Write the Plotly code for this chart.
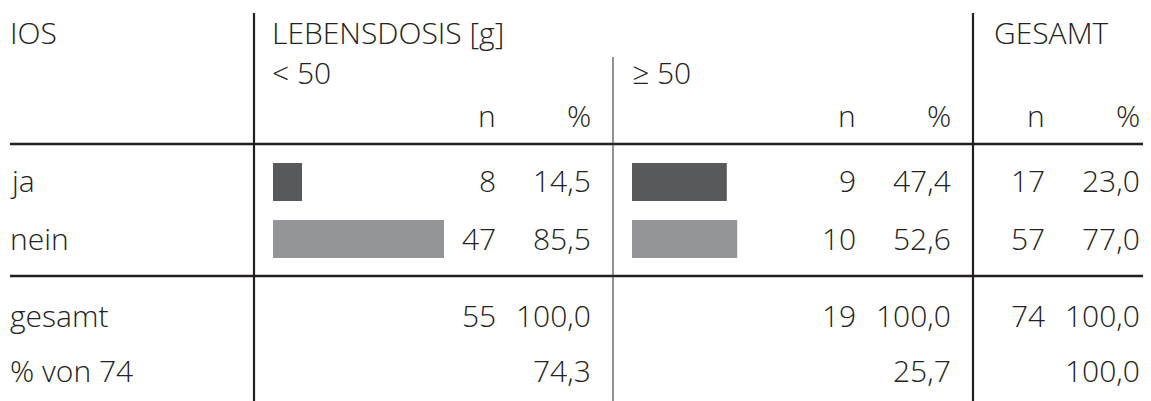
import plotly.graph_objects as go

# ---------------- data ----------------
categories = ["ja", "nein"]
n_lt50 = [8, 47]
pct_lt50 = [14.5, 85.5]
n_ge50 = [9, 10]
pct_ge50 = [47.4, 52.6]
n_total = [17, 57]
pct_total = [23.0, 77.0]

sum_labels = ["gesamt", "% von 74"]
sum_n = [55, 19, 74]
sum_pct = [100.0, 100.0, 100.0]
share_of_total = [74.3, 25.7, 100.0]

row_header = "IOS"
group_header = "LEBENSDOSIS [g]"
sub_headers = ["< 50", "≥ 50"]
total_header = "GESAMT"

# ---------------- layout constants ----------------
W, H = 1151, 401
FONT = "Open Sans"
FS = 30
TXT = "#222222"
LINE = "#231f20"
BAR_COLORS = ["#58595b", "#939598"]
DY = -2  # vertical nudge for text


def fx(px):
    return px / W


def fy(py):
    return 1 - py / H


def fmt(v):
    return f"{v:.1f}".replace(".", ",")


fig = go.Figure()

# bars through their own axes (0..100 %)
fig.add_trace(go.Bar(orientation="h", y=categories, x=pct_lt50,
                     marker=dict(color=BAR_COLORS, line=dict(width=0)),
                     width=0.667, xaxis="x", yaxis="y", hoverinfo="skip"))
fig.add_trace(go.Bar(orientation="h", y=categories, x=pct_ge50,
                     marker=dict(color=BAR_COLORS, line=dict(width=0)),
                     width=0.667, xaxis="x2", yaxis="y", hoverinfo="skip"))

row_y = [182, 241]       # ja, nein centers (px)
sum_y = [317, 372]
head_y = [34, 74, 117]

col_lt50 = (498, 593)
col_ge50 = (858, 953)
col_tot = (1047, 1142)

ann = []


def text(s, xpx, ypx, anchor="left"):
    ann.append(dict(text=s, x=fx(xpx), y=fy(ypx + DY), xref="paper", yref="paper",
                    xanchor=anchor, yanchor="middle", showarrow=False,
                    font=dict(family=FONT, size=FS, color=TXT, weight=300)))


# headers
text(row_header, 8, head_y[0])
text(group_header, 270, head_y[0])
text(total_header, 992, head_y[0])
text(sub_headers[0], 270, head_y[1])
text(sub_headers[1], 630, head_y[1])
for cn, cp in (col_lt50, col_ge50, col_tot):
    text("n", cn, head_y[2], "right")
    text("%", cp, head_y[2], "right")

# body rows
for i, cat in enumerate(categories):
    y = row_y[i]
    text(cat, 8, y)
    text(str(n_lt50[i]), col_lt50[0], y, "right")
    text(fmt(pct_lt50[i]), col_lt50[1], y, "right")
    text(str(n_ge50[i]), col_ge50[0], y, "right")
    text(fmt(pct_ge50[i]), col_ge50[1], y, "right")
    text(str(n_total[i]), col_tot[0], y, "right")
    text(fmt(pct_total[i]), col_tot[1], y, "right")

# summary rows
text(sum_labels[0], 8, sum_y[0])
text(sum_labels[1], 8, sum_y[1])
for j, (cn, cp) in enumerate((col_lt50, col_ge50, col_tot)):
    text(str(sum_n[j]), cn, sum_y[0], "right")
    text(fmt(sum_pct[j]), cp, sum_y[0], "right")
    text(fmt(share_of_total[j]), cp, sum_y[1], "right")

shapes = []


def line(x0, y0, x1, y1, w=2, color=LINE):
    shapes.append(dict(type="line", xref="paper", yref="paper",
                       x0=fx(x0), y0=fy(y0), x1=fx(x1), y1=fy(y1),
                       line=dict(color=color, width=w), layer="above"))


line(10, 144, 1143, 144, 2.4)
line(10, 276, 1143, 276, 2.4)
line(254, 13, 254, H, 2.2)
line(973, 13, 973, H, 2.2)
line(613, 57, 613, H, 1.1, "#3a3a3a")

fig.update_layout(
    width=W, height=H,
    margin=dict(l=0, r=0, t=0, b=0),
    paper_bgcolor="white", plot_bgcolor="white",
    showlegend=False, barmode="overlay",
    annotations=ann, shapes=shapes,
    xaxis=dict(domain=[fx(273), fx(473)], range=[0, 100], visible=False,
               fixedrange=True, anchor="y"),
    xaxis2=dict(domain=[fx(632), fx(832)], range=[0, 100], visible=False,
                fixedrange=True, anchor="y"),
    yaxis=dict(domain=[fy(267.5), fy(153.5)], type="category",
               categoryorder="array", categoryarray=categories,
               range=[1.5, -0.5], visible=False, fixedrange=True),
)

fig.write_html("out.html", config={"displayModeBar": False},
               post_script="document.body.style.margin='0';document.body.style.overflow='hidden';")
